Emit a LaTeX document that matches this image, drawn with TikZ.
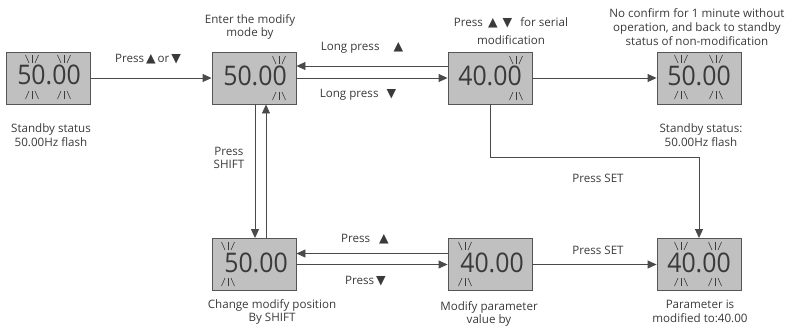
\documentclass[tikz,border=0pt]{standalone}
\usepackage{fontspec}
\setmainfont{Open Sans}
\newfontfamily\symfont{DejaVu Sans}
\usetikzlibrary{arrows.meta}
\definecolor{boxfill}{HTML}{C0C0C0}
\definecolor{boxline}{HTML}{555555}
\definecolor{txt}{HTML}{3A3A3A}
\definecolor{lncol}{HTML}{4A4A4A}
\newcommand{\up}{{\symfont\fontsize{12.5}{12.5}\selectfont ▲}}
\newcommand{\dn}{{\symfont\fontsize{12.5}{12.5}\selectfont ▼}}
\newcommand{\lblfont}{\fontsize{11.6}{13.8}\selectfont}
\tikzset{
  disp/.style={draw=boxline, fill=boxfill, line width=0.9pt, minimum width=84pt, minimum height=52pt, inner sep=0pt},
  digits/.style={text=txt, inner sep=0pt, font=\fontsize{27}{27}\selectfont},
  lbl/.style={font=\lblfont, text=txt, align=center, inner sep=0pt},
  arr/.style={draw=lncol, line width=0.9pt, -{Triangle[length=9pt,width=8pt]}},
  markline/.style={draw=txt, line width=0.6pt},
  flash/.pic={
    \draw[markline] (-6.5,-4) -- (-3,4);
    \draw[markline] (0,-4) -- (0,4);
    \draw[markline] (6.5,-4) -- (3,4);
  }
}
\begin{document}
\begin{tikzpicture}[x=1pt,y=-1pt]
\useasboundingbox (0,0) rectangle (794,330);
% boxes
\node[disp] (b1) at (48,78) {};
\node[disp] (b2) at (254,78) {};
\node[disp] (b3) at (490,78) {};
\node[disp] (b4) at (699,78) {};
\node[disp] (b5) at (254,264.5) {};
\node[disp] (b6) at (490,264.5) {};
\node[disp] (b7) at (699,264.5) {};
% digits
\node[digits] (d1) at (49,75) {\scalebox{0.92}[1]{50.00}};
\node[digits] (d2) at (255,76) {\scalebox{0.92}[1]{50.00}};
\node[digits] (d3) at (490,76) {\scalebox{0.92}[1]{40.00}};
\node[digits] (d4) at (699,76) {\scalebox{0.92}[1]{50.00}};
\node[digits] (d5) at (256,263) {\scalebox{0.92}[1]{50.00}};
\node[digits] (d6) at (492,263) {\scalebox{0.92}[1]{40.00}};
\node[digits] (d7) at (699,263) {\scalebox{0.92}[1]{40.00}};
% flash marks
\foreach \cx/\ty/\by in {32/59/95, 64/59/95, 279/60/96, 516/60/96, 681/59/95, 716/59/95,
                          228/246/282, 465/246/282, 681/246/282, 715/246/282}{
  \pic at (\cx,\ty) {flash};
  \pic[yscale=-1] at (\cx,\by) {flash};
}
% connectors
\draw[arr] (b1) -- (b2);
\draw[arr] ([yshift=12pt]b3.west) -- ([yshift=12pt]b2.east);
\draw[arr] (b2) -- (b3);
\draw[arr] (b3) -- (b4);
\coordinate (k) at (699,157);
\draw[arr] (b3.south) |- (k) -- (b7.north);
\draw[arr] ([xshift=1pt]b2.south) -- ([xshift=1pt]b5.north);
\draw[arr] ([xshift=12pt]b5.north) -- ([xshift=12pt]b2.south);
\draw[arr] ([yshift=11pt]b6.west) -- ([yshift=11pt]b5.east);
\draw[arr] (b5) -- (b6);
\draw[arr] (b6) -- (b7);
% labels
\node[lbl] (l1) at (51,135) {Standby status\\50.00Hz flash};
\node[lbl] (l2) at (148,59) {Press\,\up\,or\,\dn};
\node[lbl] (l3) at (250,27) {Enter the modify\\mode by};
\node[lbl] (l4) at (362,48) {Long press\hspace{14pt}\up};
\node[lbl] (l5) at (358,95) {Long press\hspace{8pt}\dn};
\node[lbl] (l6) at (511,31) {Press\hspace{5pt}\up\hspace{5pt}\dn\hspace{8pt}for serial\\[4pt]modification};
\node[lbl] (l7) at (697,27) {No confirm for 1 minute without\\operation, and back to standby\\status of non-modification};
\node[lbl] (l8) at (701,135) {Standby status:\\50.00Hz flash};
\node[lbl] (l9) at (229,158) {Press\\SHIFT};
\node[lbl] (l10) at (598,178) {Press SET};
\node[lbl] (l11) at (598,250) {Press SET};
\node[lbl] (l12) at (365,239) {Press\hspace{9pt}\up};
\node[lbl] (l13) at (365.5,281) {Press\,\dn};
\node[lbl] (l14) at (272,312) {Change modify position\\By SHIFT};
\node[lbl] (l15) at (489,314) {Modify parameter\\value by};
\node[lbl] (l16) at (700,311) {Parameter is\\modified to:40.00};
\end{tikzpicture}
\end{document}
